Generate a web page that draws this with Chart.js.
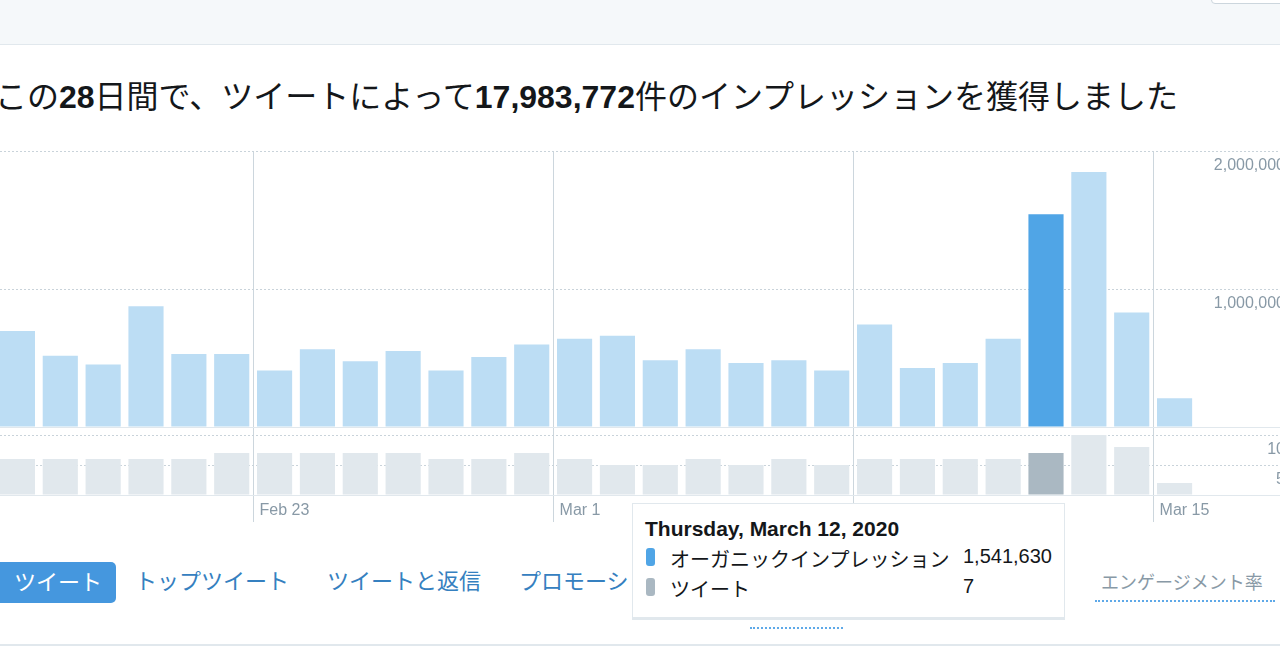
<!DOCTYPE html>
<html lang="ja">
<head>
<meta charset="utf-8">
<script src="https://cdn.jsdelivr.net/npm/chart.js@4.4.1/dist/chart.umd.min.js"></script>
<style>
  html, body { margin: 0; padding: 0; width: 1280px; height: 671px; overflow: hidden; background: #fff;
    font-family: "Liberation Sans", Arial, "Noto Sans CJK JP", sans-serif; color: #14171a; }
  .abs { position: absolute; white-space: nowrap; }
  #topband { left: 0; top: 0; width: 1280px; height: 44px; background: #f5f8fa; border-bottom: 1px solid #e1e8ed; }
  #topbtn { left: 1211px; top: -12px; width: 90px; height: 14px; background: #fff; border: 1px solid #ccd6dd; border-radius: 4px; }
  #headline { left: -5px; top: 77px; font-size: 32px; line-height: 40px; color: #14171a; }
  #headline b { font-weight: bold; }
  #chart { position: absolute; left: -4px; top: 151px; }
  #tip { left: 632px; top: 503px; width: 431px; height: 113px; background: #fff; border: 1px solid #e1e8ed;
    border-bottom: 3px solid #e1e8ed; z-index: 5; }
  #tip .t { left: 12px; top: 13px; font-size: 21px; font-weight: bold; }
  #tip .sw { width: 9px; height: 18px; border-radius: 3px; left: 13px; }
  #tip .n { left: 37px; font-size: 20px; }
  #tip .v { left: 330px; font-size: 20px; }
  .tab { top: 567px; font-size: 22px; line-height: 30px; color: #3580c0; }
  #tabOn { left: -8px; top: 562px; width: 124px; height: 41px; background: #4597de; border-radius: 5px; color: #fff;
    font-size: 22px; line-height: 41px; text-align: right; }
  #tabOn span { padding-right: 14px; }
  #eng { left: 1101px; top: 570px; font-size: 18px; line-height: 26px; color: #8899a6; }
  #engline { left: 1095px; top: 600px; width: 180px; border-top: 2px dotted #5fa9e8; }
  #hidline { left: 750px; top: 627px; width: 93px; border-top: 2px dotted #5fa9e8; }
  #bottomline { left: 0; top: 644px; width: 1280px; border-top: 2px solid #e1e8ed; }
</style>
</head>
<body>
<div id="topband" class="abs"></div>
<div id="topbtn" class="abs"></div>
<div id="headline" class="abs">この<b>28</b>日間で、ツイートによって<b>17,983,772</b>件のインプレッションを獲得しました</div>

<canvas id="chart" width="1289" height="384"></canvas>

<div id="tabOn" class="abs"><span>ツイート</span></div>
<div class="abs tab" style="left:135px">トップツイート</div>
<div class="abs tab" style="left:327px">ツイートと返信</div>
<div class="abs tab" style="left:519px">プロモーション</div>
<div id="hidline" class="abs"></div>
<div id="eng" class="abs">エンゲージメント率</div>
<div id="engline" class="abs"></div>
<div id="bottomline" class="abs"></div>

<div id="tip" class="abs">
  <div class="abs t" id="tipTitle"></div>
  <div class="abs sw" style="top:44px;background:#50a5e6"></div>
  <div class="abs n" style="top:40px" id="tipName1"></div>
  <div class="abs v" style="top:41px" id="tipVal1"></div>
  <div class="abs sw" style="top:74px;background:#aab8c2"></div>
  <div class="abs n" style="top:70px" id="tipName2"></div>
  <div class="abs v" style="top:71px" id="tipVal2"></div>
</div>

<script>
// 28日間の日付
const days = ['Feb 17', 'Feb 18', 'Feb 19', 'Feb 20', 'Feb 21', 'Feb 22', 'Feb 23', 'Feb 24', 'Feb 25', 'Feb 26',
  'Feb 27', 'Feb 28', 'Feb 29', 'Mar 1', 'Mar 2', 'Mar 3', 'Mar 4', 'Mar 5', 'Mar 6', 'Mar 7',
  'Mar 8', 'Mar 9', 'Mar 10', 'Mar 11', 'Mar 12', 'Mar 13', 'Mar 14', 'Mar 15'];

// オーガニックインプレッション
const impressions = [695000, 517000, 452000, 875000, 529000, 529000, 409000, 563000, 476000, 551000,
  409000, 507000, 597000, 640000, 662000, 483000, 563000, 464000, 483000, 409000,
  742000, 428000, 464000, 640000, 1541630, 1848000, 829000, 208000];

// ツイート数
const tweets = [6, 6, 6, 6, 6, 7, 7, 7, 7, 7, 6, 6, 7, 6, 5, 5, 6, 5, 6, 5, 6, 6, 6, 6, 7, 10, 8, 2];

const weekStarts = ['Feb 23', 'Mar 1', 'Mar 8', 'Mar 15'];
const impressionTicks = [0, 1000000, 2000000];
const tweetTicks = [0, 5, 10];
const selectedDay = 'Mar 12';
const selectedDate = new Date(2020, 2, 12);
const seriesNames = ['オーガニックインプレッション', 'ツイート'];

const sel = days.indexOf(selectedDay);
const axisW = 89;

Chart.defaults.font.family = '"Liberation Sans", Arial, sans-serif';

const dotted = ctx => (ctx.tick && ctx.tick.value === 0) ? [] : [2, 2];
const hLine = ctx => (ctx.tick && ctx.tick.value === 0) ? '#e1e8ed' : '#c9d3da';

new Chart(document.getElementById('chart'), {
  type: 'bar',
  data: {
    labels: days,
    datasets: [
      {
        label: seriesNames[0],
        data: impressions,
        yAxisID: 'y',
        grouped: false,
        barPercentage: 0.82,
        categoryPercentage: 1,
        backgroundColor: days.map((d, i) => i === sel ? '#50a5e6' : '#bcddf4')
      },
      {
        label: seriesNames[1],
        data: tweets,
        yAxisID: 'y2',
        grouped: false,
        barPercentage: 0.82,
        categoryPercentage: 1,
        backgroundColor: days.map((d, i) => i === sel ? '#aab8c2' : '#e1e8ed')
      }
    ]
  },
  options: {
    responsive: false,
    animation: false,
    events: [],
    layout: { padding: 0 },
    plugins: { legend: { display: false }, tooltip: { enabled: false } },
    scales: {
      x: {
        position: 'bottom',
        border: { display: false },
        grid: {
          offset: true,
          tickLength: 27,
          color: ctx => weekStarts.includes(days[ctx.index]) ? '#ccd6dd' : 'rgba(0,0,0,0)'
        },
        ticks: {
          autoSkip: false,
          maxRotation: 0,
          align: 'start',
          labelOffset: -15,
          padding: -21,
          color: '#8899a6',
          font: { size: 16 },
          callback: (v, i) => weekStarts.includes(days[i]) ? days[i] : ''
        },
        afterFit: s => { s.height = 40; s.paddingLeft = 0; s.paddingRight = 0; }
      },
      y: {
        position: 'right',
        stack: 'v',
        stackWeight: 276,
        min: 0,
        max: 2000000,
        border: { display: false, dash: dotted },
        grid: { color: hLine, tickLength: axisW, tickBorderDash: dotted },
        ticks: {
          autoSkip: false,
          crossAlign: 'far',
          labelOffset: 15,
          color: '#8899a6',
          font: { size: 16 },
          callback: v => v === 0 ? '' : v.toLocaleString('en-US')
        },
        afterBuildTicks: s => { s.ticks = impressionTicks.map(v => ({ value: v })); },
        afterFit: s => { s.width = axisW; s.paddingTop = 0; s.paddingBottom = 0; }
      },
      y2: {
        position: 'right',
        stack: 'v',
        stackWeight: 68,
        min: 0,
        max: 68 / 6,
        border: { display: false, dash: dotted },
        grid: { color: hLine, tickLength: axisW, tickBorderDash: dotted },
        ticks: {
          autoSkip: false,
          crossAlign: 'far',
          labelOffset: 15,
          color: '#8899a6',
          font: { size: 16 },
          callback: v => v === 0 ? '' : String(v)
        },
        afterBuildTicks: s => { s.ticks = tweetTicks.map(v => ({ value: v })); },
        afterFit: s => { s.width = axisW; s.paddingTop = 0; s.paddingBottom = 0; }
      }
    }
  }
});

// ツールチップ (3月12日)
document.getElementById('tipTitle').textContent = selectedDate.toLocaleDateString('en-US',
  { weekday: 'long', year: 'numeric', month: 'long', day: 'numeric' });
document.getElementById('tipName1').textContent = seriesNames[0];
document.getElementById('tipName2').textContent = seriesNames[1];
document.getElementById('tipVal1').textContent = impressions[sel].toLocaleString('en-US');
document.getElementById('tipVal2').textContent = tweets[sel];
</script>
</body>
</html>
